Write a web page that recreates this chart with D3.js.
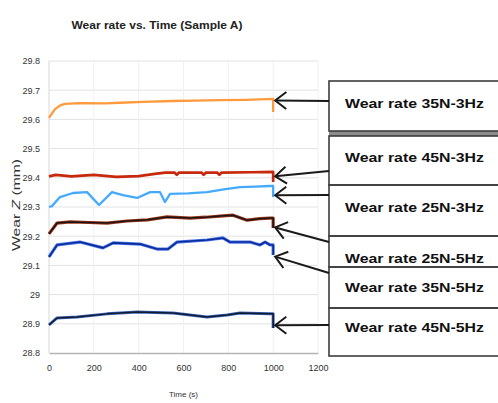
<!DOCTYPE html>
<html>
<head>
<meta charset="utf-8">
<script src="https://cdn.jsdelivr.net/npm/d3@7"></script>
<style>
  body { margin: 0; background: #fff; }
  svg { display: block; font-family: "Liberation Sans", Arial, sans-serif; }
</style>
</head>
<body>
<div id="chart"></div>
<script>
// time (s) and wear Z (mm)
const t35_3 = [0, 15, 27, 50, 71, 138, 250, 317, 420, 553, 650, 763, 880, 1000, 1000]
const z35_3 = [29.605, 29.622, 29.635, 29.648, 29.653, 29.656, 29.655, 29.657, 29.66, 29.663, 29.664, 29.666, 29.667, 29.67, 29.625]

const t45_3 = [0, 30, 100, 200, 300, 400, 480, 520, 560, 570, 580, 680, 690, 700, 750, 760, 770, 900, 1000, 1000]
const z45_3 = [29.405, 29.41, 29.405, 29.41, 29.403, 29.406, 29.414, 29.418, 29.418, 29.41, 29.418, 29.418, 29.41, 29.418, 29.418, 29.41, 29.418, 29.419, 29.42, 29.386]

const t25_3 = [0, 13, 49, 107, 170, 223, 281, 330, 393, 451, 495, 517, 540, 620, 705, 780, 852, 920, 986, 1000, 1000]
const z25_3 = [29.30, 29.303, 29.334, 29.348, 29.351, 29.307, 29.351, 29.341, 29.331, 29.351, 29.351, 29.317, 29.345, 29.347, 29.351, 29.36, 29.368, 29.37, 29.372, 29.372, 29.334]

const t25_5 = [0, 36, 94, 180, 259, 348, 440, 526, 629, 700, 763, 821, 883, 940, 986, 1000, 1000]
const z25_5 = [29.208, 29.245, 29.249, 29.247, 29.245, 29.252, 29.256, 29.266, 29.262, 29.265, 29.269, 29.272, 29.255, 29.26, 29.262, 29.262, 29.228]

const t35_5 = [0, 36, 138, 241, 286, 406, 482, 531, 571, 705, 776, 807, 897, 941, 964, 986, 1000, 1000]
const z35_5 = [29.129, 29.17, 29.18, 29.16, 29.177, 29.173, 29.156, 29.156, 29.18, 29.187, 29.194, 29.18, 29.18, 29.17, 29.18, 29.17, 29.17, 29.136]

const t45_5 = [0, 36, 125, 259, 393, 553, 705, 794, 852, 986, 1000, 1000]
const z45_5 = [28.896, 28.92, 28.923, 28.934, 28.94, 28.937, 28.923, 28.93, 28.937, 28.934, 28.934, 28.886]

const yTicks = [28.8, 28.9, 29, 29.1, 29.2, 29.3, 29.4, 29.5, 29.6, 29.7, 29.8]
const xTicks = [0, 200, 400, 600, 800, 1000, 1200]

const legendLabels = ["Wear rate 35N-3Hz", "Wear rate 45N-3Hz", "Wear rate 25N-3Hz",
                      "Wear rate 25N-5Hz", "Wear rate 35N-5Hz", "Wear rate 45N-5Hz"]
// value each arrow points at, at t = 1000
const arrowTargets = [29.665, 29.405, 29.34, 29.23, 29.13, 28.895]

const width = 498, height = 403

const svg = d3.select("#chart").append("svg")
  .attr("width", width)
  .attr("height", height)

const x = d3.scaleLinear().domain([0, 1200]).range([49, 318])
const y = d3.scaleLinear().domain([28.8, 29.8]).range([353, 61])

// gridlines
svg.append("g")
  .selectAll("line")
  .data(yTicks.slice(1))
  .join("line")
    .attr("x1", x(0)).attr("x2", x(1200))
    .attr("y1", d => y(d)).attr("y2", d => y(d))
    .attr("stroke", "#e2e2e2")
    .attr("stroke-width", 1)

svg.append("g")
  .selectAll("line")
  .data(xTicks)
  .join("line")
    .attr("x1", d => x(d)).attr("x2", d => x(d))
    .attr("y1", y(28.8)).attr("y2", y(29.8))
    .attr("stroke", d => d == 0 ? "#d8d8d8" : "#f0f0f0")
    .attr("stroke-width", 1)

// axes
const yAxis = svg.append("g")
  .attr("transform", `translate(${x(0)},0)`)
  .call(d3.axisLeft(y).tickValues(yTicks).tickSize(0).tickPadding(9).tickFormat(d3.format("~g")))
yAxis.select(".domain").remove()

const xAxis = svg.append("g")
  .attr("transform", `translate(0,${y(28.8)})`)
  .call(d3.axisBottom(x).tickValues(xTicks).tickSize(0).tickPadding(12).tickFormat(d3.format("d")))
xAxis.select(".domain").attr("stroke", "#b5b5b5").attr("stroke-width", 1.5)

svg.selectAll(".tick text")
  .attr("font-size", 9)
  .attr("fill", "#333")
  .attr("font-family", "\"Liberation Sans\", Arial, sans-serif")

// titles
svg.append("text")
  .attr("x", 157).attr("y", 29)
  .attr("text-anchor", "middle")
  .attr("font-size", 11)
  .attr("font-weight", "bold")
  .attr("fill", "#222")
  .attr("textLength", 171)
  .attr("lengthAdjust", "spacingAndGlyphs")
  .text("Wear rate vs. Time (Sample A)")

svg.append("text")
  .attr("x", x(600)).attr("y", 397)
  .attr("text-anchor", "middle")
  .attr("font-size", 8)
  .attr("fill", "#333")
  .text("Time (s)")

const yLabel = svg.append("text")
  .attr("transform", "translate(20,205) rotate(-90)")
  .attr("text-anchor", "middle")
  .attr("font-size", 10)
  .attr("fill", "#333")
  .attr("textLength", 92)
  .attr("lengthAdjust", "spacingAndGlyphs")
yLabel.append("tspan").text("Wear ")
yLabel.append("tspan").attr("font-style", "italic").text("Z")
yLabel.append("tspan").text(" (mm)")

// series
const line = d3.line().x(d => x(d[0])).y(d => y(d[1]))
const zip = (ts, zs) => ts.map((t, i) => [t, zs[i]])

const series = [
  { data: zip(t35_3, z35_3), strokes: [["#ff9a3c", 2.3]] },
  { data: zip(t45_3, z45_3), strokes: [["#c8280c", 2.7]] },
  { data: zip(t25_3, z25_3), strokes: [["#45aaff", 2.3]] },
  { data: zip(t25_5, z25_5), strokes: [["#9a3418", 3.2], ["#1c1414", 1.5]] },
  { data: zip(t35_5, z35_5), strokes: [["#4a78e8", 3.2], ["#0b2a9a", 1.6]] },
  { data: zip(t45_5, z45_5), strokes: [["#3a66b8", 3], ["#111a33", 1.5]] }
]

series.forEach(s => {
  s.strokes.forEach(([color, w]) => {
    svg.append("path")
      .datum(s.data)
      .attr("d", line)
      .attr("fill", "none")
      .attr("stroke", color)
      .attr("stroke-width", w)
      .attr("stroke-linejoin", "round")
  })
})

// legend boxes
const boxTop = [81, 136, 185, 236, 267, 308]
const boxBottom = [131, 185, 236, 267, 308, 356]
const textY = [108, 162, 212, 263, 292, 332]
const arrowFromY = [101, 171, 195, 242, 273, 325]
const boxX = 329

svg.append("rect")
  .attr("x", boxX).attr("y", 131)
  .attr("width", width - boxX + 5).attr("height", 5)
  .attr("fill", "#8c8c8c")

svg.append("g")
  .selectAll("rect")
  .data(legendLabels)
  .join("rect")
    .attr("x", boxX)
    .attr("y", (d, i) => boxTop[i])
    .attr("width", width - boxX + 5)
    .attr("height", (d, i) => boxBottom[i] - boxTop[i])
    .attr("fill", "none")
    .attr("stroke", "#3c3c3c")
    .attr("stroke-width", 1.6)

svg.append("g")
  .selectAll("text")
  .data(legendLabels)
  .join("text")
    .attr("x", 345)
    .attr("y", (d, i) => textY[i])
    .attr("font-size", 13)
    .attr("font-weight", "bold")
    .attr("fill", "#111")
    .attr("textLength", 139)
    .attr("lengthAdjust", "spacingAndGlyphs")
    .text(d => d)

// arrows
const tipX = x(1000) + 2
const arrows = svg.append("g")
  .attr("stroke", "#1a1a1a")
  .attr("stroke-width", 2)
  .attr("fill", "none")

arrowTargets.forEach((v, i) => {
  const ty = y(v), fy = arrowFromY[i]
  const ang = Math.atan2(fy - ty, boxX - tipX)
  const len = 14, spread = 0.65
  arrows.append("line")
    .attr("x1", boxX).attr("y1", fy)
    .attr("x2", tipX).attr("y2", ty)
  arrows.append("path")
    .attr("stroke-linejoin", "miter")
    .attr("d", `M${tipX + len * Math.cos(ang - spread)},${ty + len * Math.sin(ang - spread)}L${tipX},${ty}L${tipX + len * Math.cos(ang + spread)},${ty + len * Math.sin(ang + spread)}`)
})
</script>
</body>
</html>
